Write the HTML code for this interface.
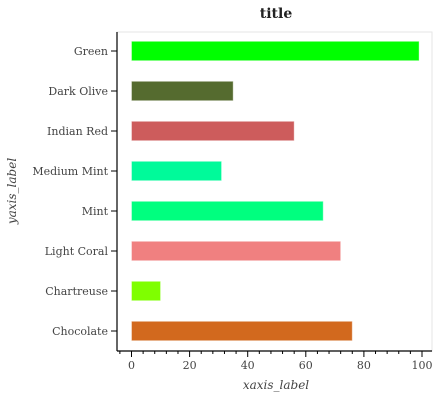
<!DOCTYPE html>
<html><head><meta charset="utf-8"><style>
body{margin:0;background:#fff;}
svg text{font-family:"DejaVu Serif","Liberation Serif",serif;}
</style></head><body>
<svg id="chart" width="437" height="400" xmlns="http://www.w3.org/2000/svg">
<text x="276" y="18" text-anchor="middle" font-size="14" font-weight="bold" fill="#222">title</text>
<g id="plot"></g>
<text x="276" y="389" text-anchor="middle" font-size="12" font-style="italic" fill="#444">xaxis_label</text>
<text x="0" y="0" transform="translate(16,191) rotate(-90)" text-anchor="middle" font-size="12" font-style="italic" fill="#444">yaxis_label</text>
</svg>
<script>
const categories=["Chocolate","Chartreuse","Light Coral","Mint","Medium Mint","Indian Red","Dark Olive","Green"];
const values=[76,10,72,66,31,56,35,99];
const colors=["#d2691e","#7fff00","#f08080","#00ff7f","#00fa9a","#cd5c5c","#556b2f","#00ff00"];
const ticks=[0,20,40,60,80,100];
const NS="http://www.w3.org/2000/svg";
const g=document.getElementById('plot');
const x0=131.5,pxPer=2.905,axisX=117,axisY=351,topY=32,rightX=432;
const xs=v=>x0+v*pxPer;
const yc=i=>331-i*40;
function mk(t,a){const e=document.createElementNS(NS,t);for(const k in a)e.setAttribute(k,a[k]);g.appendChild(e);return e;}
let f=mk('rect',{x:axisX,y:topY,width:rightX-axisX,height:axisY-topY,fill:'none',stroke:'#e6e6e6'});


categories.forEach((c,i)=>{
 const r=mk('rect',{x:x0,y:yc(i)-9.7,width:xs(values[i])-x0,height:19.4,fill:colors[i],stroke:'#fff','stroke-opacity':0.4});
 
 
 const tk=mk('line',{x1:axisX-6,x2:axisX,y1:yc(i),y2:yc(i),stroke:'#000'});
 
 
 const t=mk('text',{x:axisX-9,y:yc(i)+4,'text-anchor':'end','font-size':11,fill:'#444'});
 t.textContent=c;
 
 
});
for(let v=-4;v<=100;v+=4){
 const big=v%20===0;
 const l=mk('line',{x1:xs(v),x2:xs(v),y1:axisY,y2:axisY+(big?6:3),stroke:'#000'});
 
 
}
ticks.forEach(v=>{
 const t=mk('text',{x:xs(v),y:axisY+18,'text-anchor':'middle','font-size':11,fill:'#444'});
 t.textContent=v;
 
 
});
let ya=mk('line',{x1:axisX,x2:axisX,y1:topY,y2:axisY,stroke:'#000','stroke-width':1.2});


let xa=mk('line',{x1:axisX,x2:rightX,y1:axisY,y2:axisY,stroke:'#000','stroke-width':1.2});


</script>
</body></html>
